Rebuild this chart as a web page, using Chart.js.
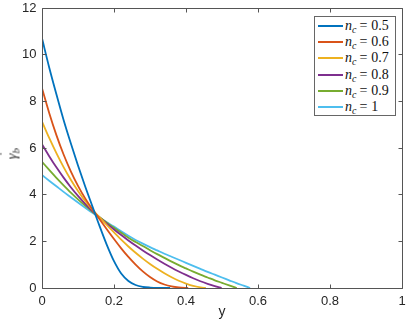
<!DOCTYPE html>
<html>
<head>
<meta charset="utf-8">
<script src="https://cdn.jsdelivr.net/npm/chart.js@4/dist/chart.umd.min.js"></script>
<style>
  html, body { margin: 0; padding: 0; background: #fff; }
  #wrap { position: relative; width: 407px; height: 331px; overflow: hidden; }
  #c { position: absolute; left: 0; top: 0; }
  #legend { position: absolute; left: 314px; top: 16px; width: 82px; height: 100px;
    border: 1px solid #666; background: #fff; box-sizing: border-box; padding-top: 1px; }
  .row { height: 16.2px; display: flex; align-items: center; font-family: "Liberation Serif", serif; font-size: 14px; color: #111; white-space: nowrap; }
  .sw { width: 25px; height: 2px; margin-left: 3px; margin-right: 2px; }
  .row sub { font-size: 10px; vertical-align: -3px; line-height: 0; }
  .eq { margin: 0 4px 0 3px; }
  #ytitle { position: absolute; left: 12px; top: 154px; transform: translate(-50%, -50%) rotate(-90deg);
    font-family: "Liberation Serif", serif; font-size: 15px; color: #333; white-space: nowrap; }
  #ytitle .g { position: relative; display: inline-block; }
  #ytitle .dot { position: absolute; left: 3px; top: -7px; font-style: normal; }
  #ytitle sub { font-size: 10px; vertical-align: -3px; line-height: 0; }
</style>
</head>
<body>
<div id="wrap">
  <canvas id="c" width="407" height="331"></canvas>
  <div id="ytitle"><span class="g"><i>γ</i><span class="dot">˙</span></span><sub><i>b</i></sub></div>
  <div id="legend"></div>
</div>
<script>
// ---- data ----
const nValues = ['0.5', '0.6', '0.7', '0.8', '0.9', '1'];
const seriesColors = ['#0072BD', '#D95319', '#EDB120', '#7E2F8E', '#77AC30', '#4DBEEE'];

const yBlue = [0,0.02,0.04,0.06,0.08,0.1,0.12,0.14,0.16,0.18,0.2,0.22,0.24,0.26,0.28,0.3,0.33,0.356];
const gBlue = [10.7,9.45,8.3,7.2,6.2,5.25,4.35,3.5,2.65,1.85,1.15,0.62,0.3,0.13,0.05,0.02,0.005,0];

const yOrange = [0,0.02,0.04,0.06,0.08,0.1,0.12,0.14,0.16,0.18,0.2,0.22,0.24,0.26,0.28,0.3,0.32,0.34,0.36,0.38,0.406];
const gOrange = [8.56,7.5,6.55,5.72,5.0,4.38,3.84,3.37,2.95,2.52,2.1,1.7,1.33,1.0,0.71,0.47,0.28,0.15,0.07,0.025,0];

const yYellow = [0,0.02,0.04,0.06,0.08,0.1,0.12,0.14,0.16,0.18,0.2,0.22,0.24,0.26,0.28,0.3,0.32,0.34,0.36,0.38,0.4,0.42,0.44,0.455];
const gYellow = [7.13,6.43,5.78,5.18,4.64,4.16,3.73,3.36,3.03,2.7,2.38,2.07,1.78,1.51,1.26,1.03,0.82,0.63,0.46,0.31,0.19,0.09,0.03,0];

const yPurple = [0,0.02,0.04,0.06,0.08,0.1,0.12,0.14,0.16,0.18,0.2,0.22,0.24,0.26,0.28,0.3,0.32,0.34,0.36,0.38,0.4,0.42,0.44,0.46,0.48,0.499];
const gPurple = [6.16,5.65,5.17,4.73,4.32,3.95,3.61,3.3,3.02,2.76,2.51,2.27,2.04,1.82,1.61,1.41,1.22,1.04,0.87,0.71,0.56,0.42,0.29,0.18,0.08,0];

const yGreen = [0,0.02,0.04,0.06,0.08,0.1,0.12,0.14,0.16,0.18,0.2,0.22,0.24,0.26,0.28,0.3,0.32,0.34,0.36,0.38,0.4,0.42,0.44,0.46,0.48,0.5,0.52,0.541];
const gGreen = [5.41,5.06,4.72,4.4,4.09,3.8,3.53,3.27,3.03,2.8,2.58,2.37,2.15,1.97,1.8,1.62,1.45,1.29,1.13,0.98,0.84,0.7,0.57,0.45,0.33,0.22,0.11,0];

const yCyan = [0,0.02,0.04,0.06,0.08,0.1,0.12,0.14,0.16,0.18,0.2,0.22,0.24,0.26,0.28,0.3,0.32,0.34,0.36,0.38,0.4,0.42,0.44,0.46,0.48,0.5,0.52,0.54,0.56,0.578];
const gCyan = [4.84,4.6,4.36,4.12,3.89,3.66,3.44,3.22,3.01,2.82,2.63,2.43,2.24,2.06,1.9,1.75,1.61,1.47,1.34,1.21,1.08,0.95,0.82,0.69,0.57,0.45,0.33,0.21,0.1,0];

const xTicks = [0, 0.2, 0.4, 0.6, 0.8, 1];
const yTicks = [0, 2, 4, 6, 8, 10, 12];

// ---- build datasets ----
const xs = [yBlue, yOrange, yYellow, yPurple, yGreen, yCyan];
const gs = [gBlue, gOrange, gYellow, gPurple, gGreen, gCyan];
const datasets = nValues.map((n, i) => ({
  label: 'nc = ' + n,
  nLabel: n,
  data: xs[i].map((x, k) => ({ x: x, y: gs[i][k] })),
  borderColor: seriesColors[i],
  backgroundColor: seriesColors[i],
  borderWidth: 1.8,
  pointRadius: 0,
  cubicInterpolationMode: 'monotone',
  fill: false
}));

const axisColor = '#555';
const boxTicks = {
  id: 'boxTicks',
  afterDraw(chart) {
    const { ctx, chartArea: a, scales: { x, y } } = chart;
    ctx.save();
    ctx.strokeStyle = axisColor;
    ctx.lineWidth = 1;
    const L = Math.floor(a.left) + 0.5, R = Math.floor(a.right) + 0.5;
    const T = Math.floor(a.top) + 0.5, B = Math.floor(a.bottom) + 0.5;
    ctx.beginPath();
    ctx.rect(L, T, R - L, B - T);
    const tl = 4;
    xTicks.forEach(v => {
      const px = Math.floor(x.getPixelForValue(v)) + 0.5;
      ctx.moveTo(px, B); ctx.lineTo(px, B - tl);
      ctx.moveTo(px, T); ctx.lineTo(px, T + tl);
    });
    yTicks.forEach(v => {
      const py = Math.floor(y.getPixelForValue(v)) + 0.5;
      ctx.moveTo(L, py); ctx.lineTo(L + tl, py);
      ctx.moveTo(R, py); ctx.lineTo(R - tl, py);
    });
    ctx.stroke();
    ctx.restore();
  }
};

const fmt = v => String(Number(Number(v).toFixed(2)));
const tickFont = { family: '"Liberation Sans", Arial, sans-serif', size: 13 };
const chart = new Chart(document.getElementById('c'), {
  type: 'line',
  data: { datasets },
  options: {
    responsive: false,
    animation: false,
    devicePixelRatio: 1,
    layout: { padding: { left: 0, right: 5, top: 8, bottom: 0 } },
    plugins: { legend: { display: false }, tooltip: { enabled: false } },
    scales: {
      x: {
        type: 'linear', min: 0, max: 1,
        grid: { display: false, drawTicks: false },
        border: { display: false },
        afterBuildTicks: s => { s.ticks = xTicks.map(v => ({ value: v })); },
        afterFit: s => { s.height = 43; s.paddingRight = 0; s.paddingLeft = 0; },
        ticks: { color: '#262626', font: tickFont, padding: 6, maxRotation: 0, callback: fmt },
        title: { display: true, text: 'y', color: '#262626',
          font: { family: '"Liberation Sans", Arial, sans-serif', size: 14 },
          padding: { top: 0, bottom: 10.6 } }
      },
      y: {
        type: 'linear', min: 0, max: 12,
        grid: { display: false, drawTicks: false },
        border: { display: false },
        afterBuildTicks: s => { s.ticks = yTicks.map(v => ({ value: v })); },
        afterFit: s => { s.width = 42; s.paddingTop = 0; s.paddingBottom = 0; },
        ticks: { color: '#262626', font: tickFont, padding: 5.5, callback: fmt }
      }
    }
  },
  plugins: [boxTicks]
});

// HTML legend generated from the chart's datasets
const leg = document.getElementById('legend');
chart.data.datasets.forEach(ds => {
  const row = document.createElement('div');
  row.className = 'row';
  row.innerHTML = '<span class="sw" style="background:' + ds.borderColor + '"></span>' +
    '<span><i>n</i><sub><i>c</i></sub><span class="eq">=</span>' + ds.nLabel + '</span>';
  leg.appendChild(row);
});
</script>
</body>
</html>
